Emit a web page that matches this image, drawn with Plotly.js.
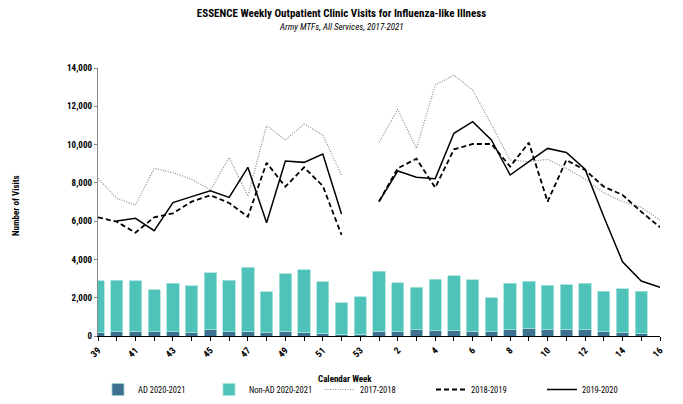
<!DOCTYPE html>
<html>
<head>
<meta charset="utf-8">
<script src="https://cdn.plot.ly/plotly-3.0.1.min.js"></script>
<style>html,body{margin:0;padding:0;background:#fff;}#chart{width:683px;height:404px;}</style>
</head>
<body>
<div id="chart"></div>
<script>
// Calendar weeks (season runs week 39 through week 16)
const weeks = ['39','40','41','42','43','44','45','46','47','48','49','50','51','52','53',
               '1','2','3','4','5','6','7','8','9','10','11','12','13','14','15','16'];
// Tick labels: every other week is labelled
const tickText = ['39','','41','','43','','45','','47','','49','','51','','53',
                  '','2','','4','','6','','8','','10','','12','','14','','16'];

// 2020-2021 bars (stacked): Active Duty and Non-Active Duty
const ad2021 = [175,210,210,210,210,175,315,210,260,170,260,175,110,60,100,
                260,230,315,280,280,230,230,315,384,315,350,315,230,175,120,null];
const nonAd2021 = [2705,2705,2670,2215,2550,2445,2985,2705,3340,2150,2985,3280,2735,1670,1960,
                   3110,2560,2230,2685,2880,2700,1760,2445,2475,2335,2320,2445,2110,2305,2220,null];

// Prior seasons (total visits)
const s1718 = [8240,7190,6840,8760,8530,8190,7630,9320,7310,10990,10240,11070,10500,8410,null,
               10100,11840,9800,13110,13630,12850,11050,9190,9110,9230,8760,8190,7490,7020,6720,6060];
const s1819 = [6200,5970,5400,6200,6410,7020,7350,6950,6230,9050,7800,8810,7840,5280,null,
               7020,8760,9260,7750,9750,10030,10030,8850,10100,7020,9190,8670,7800,7370,6490,5680];
const s1920 = [null,6010,6150,5500,6970,7280,7590,7240,8810,5920,9140,9070,9510,6370,null,
               7020,8620,8290,8220,10590,11200,10240,8410,9110,9800,9590,8710,6230,3880,2870,2540];

const FONT = "'Liberation Sans Narrow', 'Roboto Condensed', Roboto, 'Liberation Sans', Arial, sans-serif";

const traces = [
  {type:'bar', name:'AD 2020-2021', x:weeks, y:ad2021,
   marker:{color:'#3e7190', line:{color:'#9fd6d0', width:0.8}}, width:0.66},
  {type:'bar', name:'Non-AD 2020-2021', x:weeks, y:nonAd2021,
   marker:{color:'#4fc3b9', line:{color:'#a8e3dd', width:0.8}}, width:0.66},
  {type:'scatter', mode:'lines', name:'2017-2018', x:weeks, y:s1718,
   line:{color:'#8a8a8a', width:1.2, dash:'1px,1.5px'}, connectgaps:false},
  {type:'scatter', mode:'lines', name:'2018-2019', x:weeks, y:s1819,
   line:{color:'#000000', width:1.8, dash:'5px,3px'}, connectgaps:false},
  {type:'scatter', mode:'lines', name:'2019-2020', x:weeks, y:s1920,
   line:{color:'#000000', width:1.5}, connectgaps:false}
];

const layout = {
  width:683, height:404,
  margin:{l:98, r:23, t:68, b:68},
  paper_bgcolor:'#fff', plot_bgcolor:'#fff',
  font:{family:FONT, color:'#000', size:9},
  barmode:'stack',
  showlegend:true,
  title:{
    text:'<b>ESSENCE Weekly Outpatient Clinic Visits for Influenza-like Illness</b>',
    font:{family:FONT, size:11, color:'#000'},
    x:0.5, xref:'container', xanchor:'center',
    y:1-13/404, yref:'container', yanchor:'middle'
  },
  annotations:[
    {text:'<i>Army MTFs, All Services, 2017-2021</i>', xref:'paper', yref:'paper',
     x:(341-98)/562, y:(336-27)/268, xanchor:'center', yanchor:'middle', showarrow:false,
     font:{family:FONT, size:9, color:'#000'}},
    {text:'<b>Calendar Week</b>', xref:'paper', yref:'paper',
     x:(345-98)/562, y:(336-379)/268, xanchor:'center', yanchor:'middle', showarrow:false,
     font:{family:FONT, size:9, color:'#000'}},
    {text:'<b>Number of Visits</b>', xref:'paper', yref:'paper', textangle:-90,
     x:(16-98)/562, y:(336-206)/268, xanchor:'center', yanchor:'middle', showarrow:false,
     font:{family:FONT, size:9, color:'#000'}}
  ],
  xaxis:{
    type:'category', categoryorder:'array', categoryarray:weeks,
    range:[0,30],
    tickmode:'array', tickvals:weeks, ticktext:tickText,
    tickangle:-45, tickfont:{family:FONT, size:9.5, weight:'bold'},
    ticks:'outside', ticklen:4, tickcolor:'#000',
    showline:true, linecolor:'#000', linewidth:1.2,
    showgrid:false, zeroline:false
  },
  yaxis:{
    range:[0,14000], tickvals:[0,2000,4000,6000,8000,10000,12000,14000],
    tickformat:',d', tickfont:{family:FONT, size:9, weight:'bold'},
    ticks:'outside', ticklen:3, tickcolor:'#888',
    showline:true, linecolor:'#888', linewidth:1.2,
    showgrid:false, zeroline:false
  },
  legend:{
    orientation:'h', x:98/683, xref:'container', xanchor:'left', y:-0.012, yref:'container', yanchor:'bottom',
    font:{family:FONT, size:8.5}, traceorder:'normal',
    entrywidth:66, entrywidthmode:'pixels', itemwidth:30, bgcolor:'rgba(0,0,0,0)'
  }
};

Plotly.newPlot('chart', traces, layout, {staticPlot:true, displayModeBar:false});
</script>
</body>
</html>
